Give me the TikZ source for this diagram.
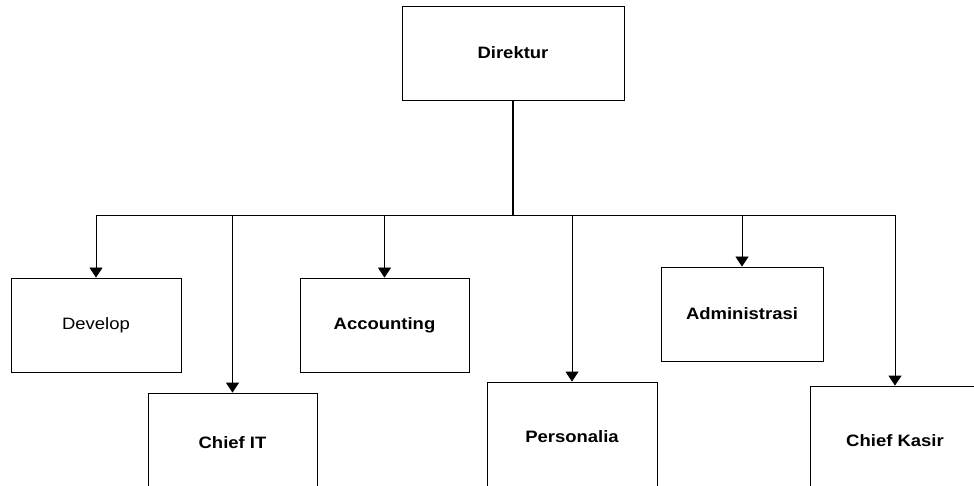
\documentclass[tikz,border=0pt]{standalone}
\usepackage{fontspec}
\setmainfont{Liberation Sans}[FakeStretch=1.12]
\usepackage{tikz}
\usetikzlibrary{arrows.meta}

\begin{document}
\begin{tikzpicture}[x=1pt, y=1pt]
    \tikzstyle{unit} = [rectangle, draw, line width=0.8pt, inner sep=0pt, font=\fontsize{16.5}{19}\selectfont\bfseries]
    \tikzstyle{link} = [line width=0.8pt, -{Triangle[width=13pt, length=10pt]}]

    \useasboundingbox (0,0) rectangle (974,-486);
    \clip (0,0) rectangle (974,-486);

    % Top
    \node[unit, minimum width=222, minimum height=94] (dir) at (513,-53) {Direktur};

    % Divisions
    \node[unit, minimum width=170, minimum height=94, font=\fontsize{16.5}{19}\selectfont] (dev) at (96,-325) {Develop};
    \node[unit, minimum width=169, minimum height=94] (acc) at (384.5,-325) {Accounting};
    \node[unit, minimum width=162, minimum height=94] (adm) at (742,-314) {Administrasi};
    \node[unit, minimum width=169, minimum height=100] (cit) at (232.5,-443) {Chief IT};
    \node[unit, minimum width=170, minimum height=110] (per) at (572,-437) {Personalia};
    \node[unit, minimum width=170, minimum height=110] (kas) at (895,-441) {Chief Kasir};

    % Bus
    \coordinate (bus) at (513,-215);
    \draw[line width=1.6pt] (dir.south) -- (bus);
    \draw[line width=0.8pt] (dev.north |- bus) -- (kas.north |- bus);

    % Arrows
    \foreach \n in {dev, cit, acc, per, adm, kas}
        \draw[link] (\n.north |- bus) -- (\n.north);

\end{tikzpicture}
\end{document}
